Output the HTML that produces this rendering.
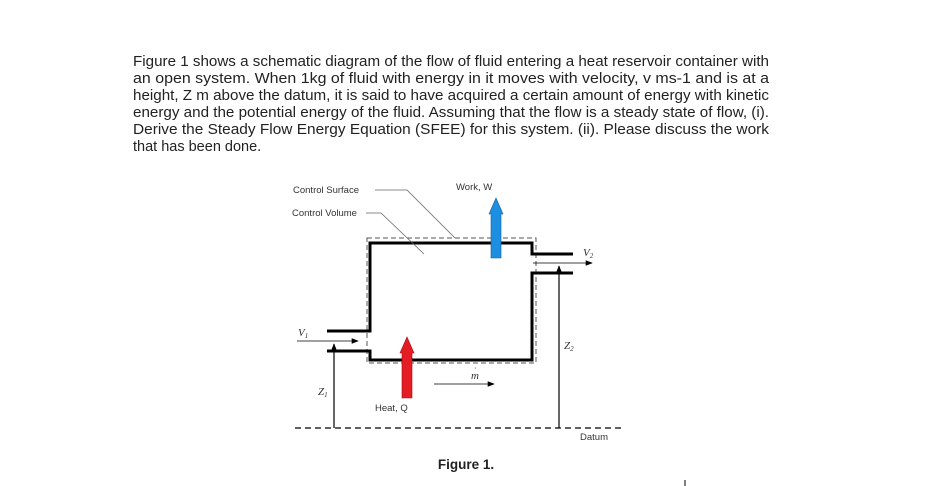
<!DOCTYPE html>
<html><head><meta charset="utf-8"><style>
html,body{margin:0;padding:0;background:#fff;}
svg{display:block;}
</style></head><body>
<svg width="950" height="486" viewBox="0 0 950 486" xmlns="http://www.w3.org/2000/svg">
<defs>
<marker id="ah" viewBox="0 0 10 10" refX="9" refY="5" markerWidth="7" markerHeight="7" orient="auto" markerUnits="userSpaceOnUse"><path d="M0,1 L10,5 L0,9 z" fill="#000"/></marker>
</defs>
<g font-family="Liberation Sans, Arial, sans-serif" font-size="14.5" fill="#222">
<text x="133" y="66" textLength="636" lengthAdjust="spacingAndGlyphs">Figure 1 shows a schematic diagram of the flow of fluid entering a heat reservoir container with</text>
<text x="133" y="83" textLength="636" lengthAdjust="spacingAndGlyphs">an open system. When 1kg of fluid with energy in it moves with velocity, v ms-1 and is at a</text>
<text x="133" y="100" textLength="636" lengthAdjust="spacingAndGlyphs">height, Z m above the datum, it is said to have acquired a certain amount of energy with kinetic</text>
<text x="133" y="117" textLength="636" lengthAdjust="spacingAndGlyphs">energy and the potential energy of the fluid. Assuming that the flow is a steady state of flow, (i).</text>
<text x="133" y="134" textLength="636" lengthAdjust="spacingAndGlyphs">Derive the Steady Flow Energy Equation (SFEE) for this system. (ii). Please discuss the work</text>
<text x="133" y="151">that has been done.</text>
</g>
<rect x="367" y="238" width="169" height="125" fill="none" stroke="#555" stroke-width="1" stroke-dasharray="5,3"/>
<path d="M327,331 H370 V243 H532 V254 H573" fill="none" stroke="#000" stroke-width="3"/>
<path d="M327,351 H370 V360 H532 V273 H573" fill="none" stroke="#000" stroke-width="3"/>
<g font-family="Liberation Sans, Arial, sans-serif" font-size="9.5" fill="#333">
<text x="293" y="193">Control Surface</text>
<text x="292" y="216">Control Volume</text>
<text x="456" y="190">Work, W</text>
<text x="375" y="411">Heat, Q</text>
<text x="580" y="440">Datum</text>
</g>
<path d="M375,190 H407 L455,238" fill="none" stroke="#666" stroke-width="0.8"/>
<path d="M366,213 H381 L424,254" fill="none" stroke="#666" stroke-width="0.8"/>
<path d="M491,258 V214 H489 L496,198 L503,214 H501 V258 Z" fill="#1e8fe0" stroke="#0d5f9f" stroke-width="0.6"/>
<path d="M402,398 V353 H400 L407,337 L414,353 H412 V398 Z" fill="#e41d25" stroke="#a01010" stroke-width="0.6"/>
<line x1="295" y1="428" x2="625" y2="428" stroke="#000" stroke-width="1.2" stroke-dasharray="6,4"/>
<line x1="334" y1="428" x2="334" y2="344" stroke="#000" stroke-width="1.2" marker-end="url(#ah)"/>
<line x1="297" y1="341" x2="358" y2="341" stroke="#000" stroke-width="0.8" marker-end="url(#ah)"/>
<line x1="559" y1="428" x2="559" y2="266" stroke="#000" stroke-width="1.2" marker-end="url(#ah)"/>
<line x1="533" y1="263" x2="592" y2="263" stroke="#000" stroke-width="0.8" marker-end="url(#ah)"/>
<line x1="434" y1="384" x2="494" y2="384" stroke="#000" stroke-width="0.8" marker-end="url(#ah)"/>
<g font-family="Liberation Serif, serif" font-style="italic" font-size="11" fill="#333">
<text x="298" y="336">V<tspan font-size="7" dy="2">1</tspan></text>
<text x="583" y="256">V<tspan font-size="7" dy="2">2</tspan></text>
<text x="318" y="395">Z<tspan font-size="7" dy="2">1</tspan></text>
<text x="564" y="349">Z<tspan font-size="7" dy="2">2</tspan></text>
<text x="471" y="379">m</text>
<text x="474" y="371" font-size="8" font-style="normal">·</text>
</g>
<text x="466" y="469" text-anchor="middle" font-family="Liberation Sans, Arial, sans-serif" font-size="13.5" font-weight="bold" fill="#222">Figure 1.</text>
<line x1="685" y1="480" x2="685" y2="486" stroke="#000" stroke-width="1"/>
</svg>
</body></html>
